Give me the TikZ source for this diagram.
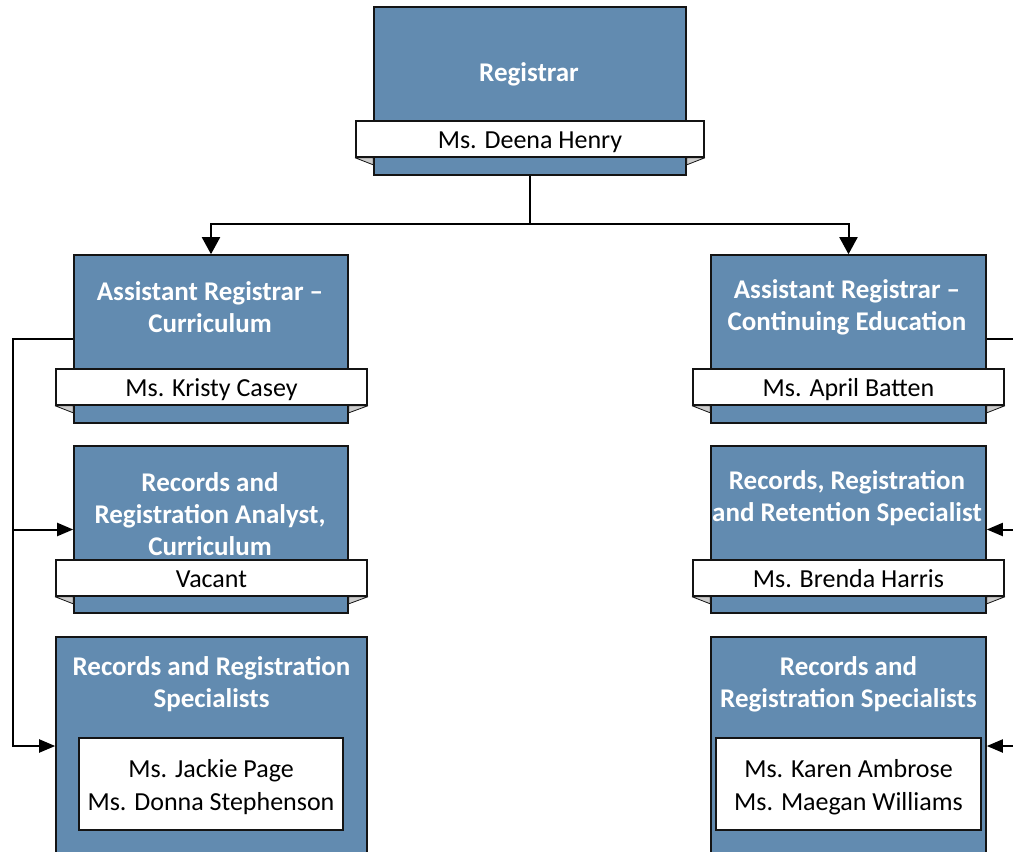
\documentclass[tikz,border=0pt]{standalone}
\usepackage{fontspec}
\setmainfont{Carlito}
\usetikzlibrary{arrows.meta}
\definecolor{boxblue}{RGB}{98,139,176}
\definecolor{foldgray}{RGB}{205,205,205}
\definecolor{edge}{RGB}{20,20,20}
\tikzset{
  posbox/.style={draw=edge, fill=boxblue, line width=1.6pt, inner sep=0pt},
  tabbox/.style={draw=edge, fill=white, line width=1.6pt, inner sep=0pt, minimum height=36pt,
    font=\fontsize{26}{30}\selectfont, text=black, text depth=0pt, text height=19pt},
  listbox/.style={draw=edge, fill=white, line width=1.6pt, inner sep=0pt},
  listtext/.style={align=center, inner sep=0pt, text=black, font=\fontsize{26}{33}\selectfont},
  titletext/.style={text=white, align=center, inner sep=0pt,
    font=\fontsize{27}{32}\selectfont\bfseries},
  fold/.style={draw=edge, fill=foldgray, line width=0.8pt, line join=round},
  conn/.style={draw=black, line width=2pt},
  arrowdown/.style={conn, -{Triangle[length=17pt,width=18pt]}},
  arrowside/.style={conn, -{Triangle[length=16pt,width=13pt]}}
}
\newcommand{\folds}[2]{%
  \filldraw[fold] (#1.south west) -- (#2.south west |- #1.south) -- ([yshift=-7pt]#2.south west |- #1.south) -- cycle;
  \filldraw[fold] (#1.south east) -- (#2.south east |- #1.south) -- ([yshift=-7pt]#2.south east |- #1.south) -- cycle;
}
\begin{document}
\begin{tikzpicture}[x=1pt,y=-1pt]
\useasboundingbox (0,0) rectangle (1013,852);
\clip (0,0) rectangle (1013,852);
\fill[white] (0,0) rectangle (1013,852);

% Registrar
\node[posbox, minimum width=312pt, minimum height=168pt] (reg) at (530,91) {};
\node[titletext] (regT) at (529,74) {Registrar};
\node[tabbox, minimum width=348pt] (regN) at (530,139) {};
\folds{regN}{reg}
\node[tabbox, minimum width=348pt] (regName) at (530,139) {Ms. Deena Henry};

% Left column
\node[posbox, minimum width=274pt, minimum height=168pt] (arc) at (211,339) {};
\node[titletext] (arcT) at (210,307) {Assistant Registrar –\\Curriculum};
\node[tabbox, minimum width=311pt] (arcN) at (211.5,387) {};
\folds{arcN}{arc}
\node[tabbox, minimum width=311pt] (arcName) at (211.5,387) {Ms. Kristy Casey};

\node[posbox, minimum width=274pt, minimum height=167pt] (ara) at (211,529.5) {};
\node[titletext] (araT) at (210,514) {Records and\\Registration Analyst,\\Curriculum};
\node[tabbox, minimum width=311pt] (araN) at (211.5,578) {};
\folds{araN}{ara}
\node[tabbox, minimum width=311pt] (araName) at (211.5,578) {Vacant};

\node[posbox, minimum width=311pt, minimum height=218pt] (lsp) at (211.5,746) {};
\node[titletext] (lspT) at (211.5,684) {Records and Registration\\Specialists};
\node[listbox, minimum width=264pt, minimum height=92pt] (lspN) at (211,784) {};
\node[listtext] (lspNames) at (211,787) {Ms. Jackie Page\\Ms. Donna Stephenson};

% Right column
\node[posbox, minimum width=275pt, minimum height=168pt] (arce) at (848.5,339) {};
\node[titletext] (arceT) at (847,307) {Assistant Registrar –\\Continuing Education};
\node[tabbox, minimum width=311pt] (arceN) at (848.5,387) {};
\folds{arceN}{arce}
\node[tabbox, minimum width=311pt] (arceName) at (848.5,387) {Ms. April Batten};

\node[posbox, minimum width=275pt, minimum height=167pt] (rrr) at (848.5,529.5) {};
\node[titletext] (rrrT) at (847,498) {Records, Registration\\and Retention Specialist};
\node[tabbox, minimum width=311pt] (rrrN) at (848.5,578) {};
\folds{rrrN}{rrr}
\node[tabbox, minimum width=311pt] (rrrName) at (848.5,578) {Ms. Brenda Harris};

\node[posbox, minimum width=275pt, minimum height=218pt] (rsp) at (848.5,746) {};
\node[titletext] (rspT) at (848.5,684) {Records and\\Registration Specialists};
\node[listbox, minimum width=265pt, minimum height=92pt] (rspN) at (848.5,784) {};
\node[listtext] (rspNames) at (848.5,787) {Ms. Karen Ambrose\\Ms. Maegan Williams};

% Connectors
\coordinate (hub) at (530,224);
\draw[conn] (reg.south) -- (hub);
\draw[arrowdown] (hub) -| (arc.north);
\draw[arrowdown] (hub) -| (arce.north);

\coordinate (lbus) at (13,339);
\draw[arrowside] (arc.west) -- (lbus) |- (lsp.west);
\draw[arrowside] (lbus |- ara.west) -- (ara.west);

\coordinate (rbus) at (1030,339);
\draw[arrowside] (arce.east) -- (rbus) |- (rsp.east);
\draw[arrowside] (rbus |- rrr.east) -- (rrr.east);
\end{tikzpicture}
\end{document}
